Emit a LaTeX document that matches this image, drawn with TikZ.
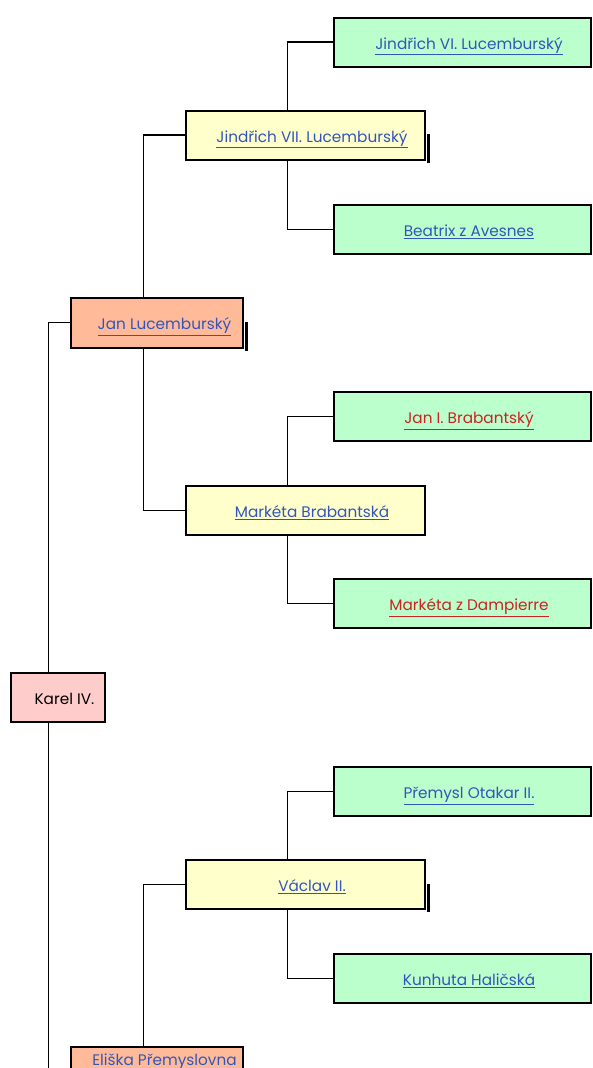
\documentclass[tikz,border=0pt]{standalone}
\usepackage{fontspec}
\setmainfont{Poppins}
\usetikzlibrary{calc}
\definecolor{gbox}{RGB}{187,255,204}
\definecolor{ybox}{RGB}{255,255,204}
\definecolor{obox}{RGB}{255,187,153}
\definecolor{pbox}{RGB}{255,204,204}
\definecolor{linkblue}{RGB}{51,85,187}
\definecolor{linkred}{RGB}{204,34,34}
% #1 lowering of baseline below node centre, #2 right shift x2, #3 colour, #4 text
\newcommand{\ptxt}[4]{\hspace*{#2}\smash{\raisebox{-#1}{\textcolor{#3}{#4}}}}
\newcommand{\lnk}[4]{\ptxt{#1}{#2}{#3}{\underline{#4}}}
\tikzset{
  person/.style={draw=black, line width=2pt, inner sep=0pt, font=\fontsize{15.3}{17}\selectfont},
  greenbox/.style={person, fill=gbox, minimum width=257pt, minimum height=49pt},
  yellowbox/.style={person, fill=ybox, minimum width=239pt, minimum height=49pt},
  orangebox/.style={person, fill=obox, minimum width=172pt, minimum height=50pt},
  pinkbox/.style={person, fill=pbox, minimum width=94pt, minimum height=49pt},
  conn/.style={draw=black, line width=1.8pt},
  shadowbar/.style={fill=black}
}
\begin{document}
\begin{tikzpicture}[x=1pt,y=-1pt]
\useasboundingbox (0,0) rectangle (592,1068);
\clip (0,0) rectangle (592,1068);
% level 3
\node[greenbox] (jvi) at (462,42) {\lnk{7pt}{14pt}{linkblue}{Jindřich VI. Lucemburský}};
\node[greenbox] (bea) at (462,229.5) {\lnk{7pt}{14pt}{linkblue}{Beatrix z Avesnes}};
\node[greenbox] (jib) at (462,416.5) {\lnk{7pt}{14pt}{linkred}{Jan I. Brabantský}};
\node[greenbox] (mzd) at (462,603.5) {\lnk{7pt}{14pt}{linkred}{Markéta z Dampierre}};
\node[greenbox] (pot) at (462,791.5) {\lnk{7pt}{14pt}{linkblue}{Přemysl Otakar II.}};
\node[greenbox] (kun) at (462,978.5) {\lnk{7pt}{14pt}{linkblue}{Kunhuta Haličská}};
% level 2
\node[yellowbox] (jvii) at (305,135) {\lnk{7pt}{14pt}{linkblue}{Jindřich VII. Lucemburský}};
\node[yellowbox] (mb) at (305,510.5) {\lnk{7pt}{14pt}{linkblue}{Markéta Brabantská}};
\node[yellowbox] (vac) at (305,884.5) {\lnk{7pt}{14pt}{linkblue}{Václav II.}};
% level 1
\node[orangebox] (jan) at (156.5,322.5) {\lnk{7pt}{16pt}{linkblue}{Jan Lucemburský}};
\node[orangebox] (eli) at (156.5,1071.5) {\ptxt{-6.5pt}{16pt}{linkblue}{Eliška Přemyslovna}};
% level 0
\node[pinkbox] (kar) at (57.5,697) {\ptxt{7.5pt}{14pt}{black}{Karel IV.}};
% shadows
\foreach \n in {jvii,vac,jan,eli}{
  \fill[shadowbar] ($(\n.east)+(1,-1)$) rectangle ($(\n.south east)+(4.5,2)$);
}
% connectors
\draw[conn] ($(jvii.north west)+(103,0)$) |- (jvi.west);
\draw[conn] ($(jvii.south west)+(103,0)$) |- (bea.west);
\draw[conn] ($(mb.north west)+(103,0)$) |- (jib.west);
\draw[conn] ($(mb.south west)+(103,0)$) |- (mzd.west);
\draw[conn] ($(vac.north west)+(103,0)$) |- (pot.west);
\draw[conn] ($(vac.south west)+(103,0)$) |- (kun.west);
\draw[conn] ($(jan.north west)+(74,0)$) |- (jvii.west);
\draw[conn] ($(jan.south west)+(74,0)$) |- (mb.west);
\draw[conn] ($(eli.north west)+(74,0)$) |- (vac.west);
\draw[conn] ($(kar.north west)+(39,0)$) |- (jan.west);
\draw[conn] ($(kar.south west)+(39,0)$) |- (eli.west);
\end{tikzpicture}
\end{document}
